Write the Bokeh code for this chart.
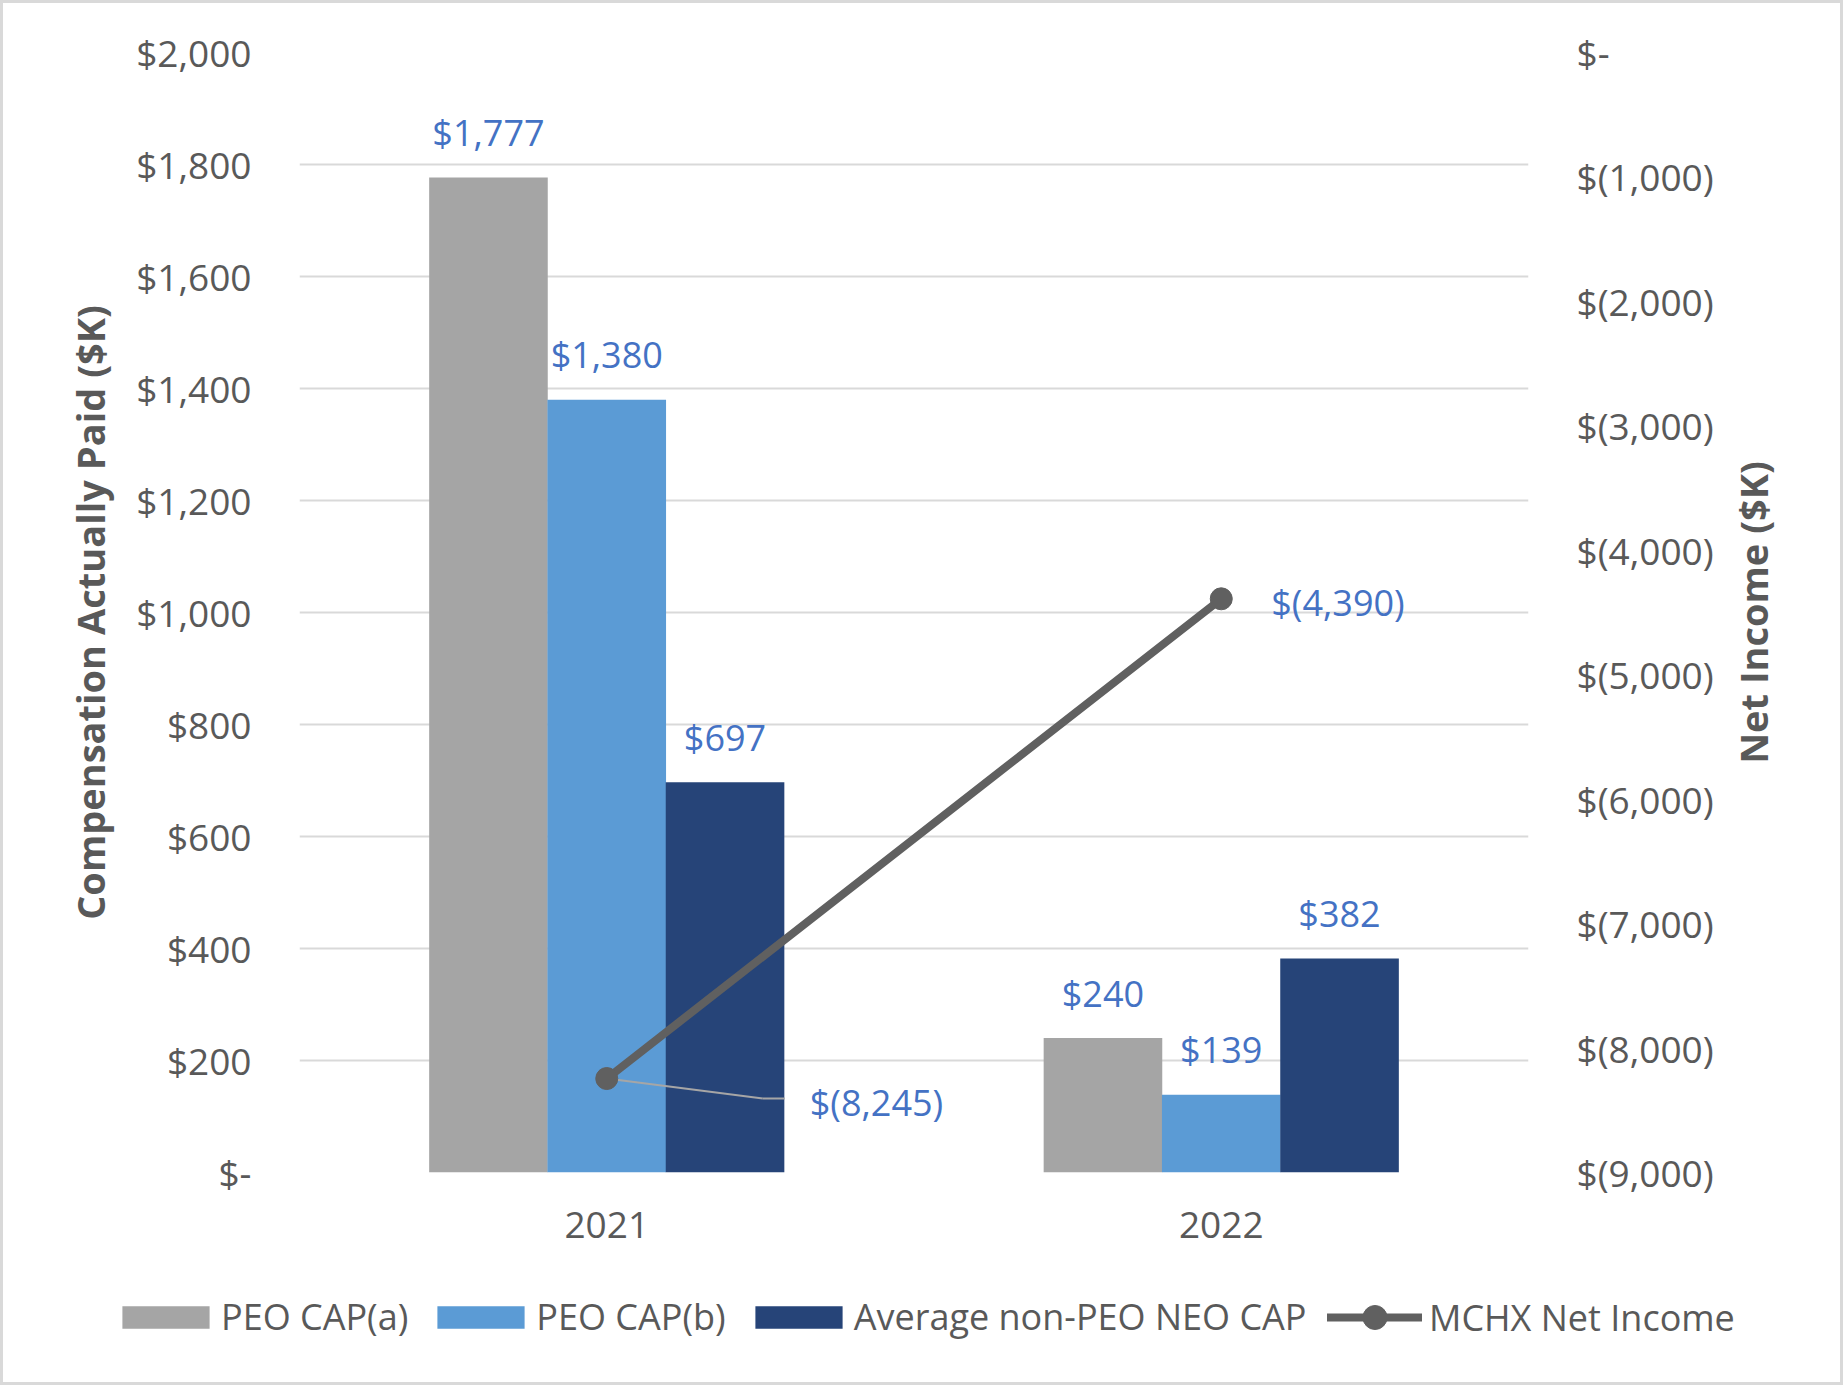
from bokeh.plotting import figure
from bokeh.layouts import column, row
from bokeh.models import (ColumnDataSource, FactorRange, Range1d, LinearAxis,
                          FixedTicker, Legend, LegendItem, LabelSet)
from bokeh.transform import dodge
from bokeh.embed import file_html
from bokeh.resources import INLINE
from bokeh.core.properties import value

# ---------------- data ----------------
years = ["2021", "2022"]
peo_cap_a = [1777, 240]
peo_cap_b = [1380, 139]
avg_neo_cap = [697, 382]
net_income = [-8245, -4390]

left_ticks = [0, 200, 400, 600, 800, 1000, 1200, 1400, 1600, 1800, 2000]
left_tick_labels = ["$-", "$200", "$400", "$600", "$800", "$1,000", "$1,200",
                    "$1,400", "$1,600", "$1,800", "$2,000"]
right_ticks = [-9000, -8000, -7000, -6000, -5000, -4000, -3000, -2000, -1000, 0]
right_tick_labels = ["$(9,000)", "$(8,000)", "$(7,000)", "$(6,000)", "$(5,000)",
                     "$(4,000)", "$(3,000)", "$(2,000)", "$(1,000)", "$-"]

series_names = ["PEO CAP(a)", "PEO CAP(b)", "Average non-PEO NEO CAP", "MCHX Net Income"]
left_title = "Compensation Actually Paid ($K)"
right_title = "Net Income ($K)"

# ---------------- style ----------------
FONT = "Open Sans"
FS = "36px"
C_A = "#A5A5A5"
C_B = "#5B9BD5"
C_N = "#264478"
C_LINE = "#606060"
C_LBL = "#4472C4"
C_TXT = "#595959"
C_GRID = "#D9D9D9"

BORDER = 3
W = 1843 - 2 * BORDER          # 1837
W_MAIN = 1720
W_TITLE = W - W_MAIN
H_MAIN = 1265
H_LEG = 1385 - 2 * BORDER - H_MAIN
ML, MR, MT, MB = 296, W_MAIN - 1525, 49, 96
frame_w = W_MAIN - ML - MR
frame_h = H_MAIN - MT - MB
BW = 0.193


def money(v):
    return f"${v:,}"


def money_neg(v):
    return f"$({-v:,})" if v < 0 else "$-"


def no_align(fig):
    if "frame_align" in fig.properties():
        fig.frame_align = False


src = ColumnDataSource(dict(
    year=years, a=peo_cap_a, b=peo_cap_b, n=avg_neo_cap, ni=net_income,
    a_lbl=[money(v) for v in peo_cap_a],
    b_lbl=[money(v) for v in peo_cap_b],
    n_lbl=[money(v) for v in avg_neo_cap],
))

p = figure(x_range=FactorRange(*years, range_padding=0), y_range=Range1d(0, 2000),
           width=W_MAIN, height=H_MAIN, output_backend="svg", toolbar_location=None,
           min_border_left=ML, min_border_right=MR, min_border_top=MT,
           min_border_bottom=MB)
p.extra_y_ranges = {"ni": Range1d(-9000, 0)}
p.outline_line_color = None
p.background_fill_color = "white"
p.border_fill_color = "white"
no_align(p)

# bars
p.vbar(x=dodge("year", -0.1925, range=p.x_range), top="a", width=BW, source=src,
       fill_color=C_A, line_color=None)
p.vbar(x=dodge("year", 0.0, range=p.x_range), top="b", width=BW, source=src,
       fill_color=C_B, line_color=None)
p.vbar(x=dodge("year", 0.1925, range=p.x_range), top="n", width=BW, source=src,
       fill_color=C_N, line_color=None)

# leader line for the first net income label
px_per_cat = frame_w / len(years)
px_per_ni = frame_h / 9000.0
lead_src = ColumnDataSource(dict(year=[years[0]], ni=[net_income[0]],
                                 ni2=[net_income[0] - 20 / px_per_ni]))
p.segment(x0=dodge("year", 0.0, range=p.x_range), y0="ni",
          x1=dodge("year", 156 / px_per_cat, range=p.x_range), y1="ni2",
          source=lead_src, y_range_name="ni", line_color="#A6A6A6", line_width=2)
p.segment(x0=dodge("year", 156 / px_per_cat, range=p.x_range), y0="ni2",
          x1=dodge("year", 178 / px_per_cat, range=p.x_range), y1="ni2",
          source=lead_src, y_range_name="ni", line_color="#A6A6A6", line_width=2)

# net income line
p.line(x="year", y="ni", source=src, y_range_name="ni", line_color=C_LINE,
       line_width=8, line_cap="round")
p.scatter(x="year", y="ni", source=src, y_range_name="ni", size=22,
          fill_color=C_LINE, line_color=C_LINE)

# data labels
for fld, lbl, off in (("a", "a_lbl", -0.1925), ("b", "b_lbl", 0.0), ("n", "n_lbl", 0.1925)):
    p.add_layout(LabelSet(x=dodge("year", off, range=p.x_range), y=fld, text=lbl, source=src,
                          text_align="center", text_baseline="middle", y_offset=45,
                          text_font=value(FONT), text_font_size=FS, text_color=C_LBL))

ni_src = ColumnDataSource(dict(year=years, ni=net_income,
                               ni_lbl=[money_neg(v) for v in net_income],
                               dx=[203, 50], dy=[-24, -4]))
p.add_layout(LabelSet(x="year", y="ni", text="ni_lbl", source=ni_src, y_range_name="ni",
                      x_offset="dx", y_offset="dy",
                      text_align="left", text_baseline="middle",
                      text_font=value(FONT), text_font_size=FS, text_color=C_LBL))

# axes
p.yaxis.ticker = FixedTicker(ticks=left_ticks)
p.yaxis.major_label_overrides = dict(zip(left_ticks, left_tick_labels))
p.yaxis.axis_label = left_title

right = LinearAxis(y_range_name="ni", ticker=FixedTicker(ticks=right_ticks),
                   major_label_overrides=dict(zip(right_ticks, right_tick_labels)))
p.add_layout(right, "right")


def style_axis(ax):
    ax.axis_line_color = None
    ax.major_tick_line_color = None
    ax.minor_tick_line_color = None
    ax.major_tick_out = 0
    ax.major_tick_in = 0
    ax.minor_tick_out = 0
    ax.minor_tick_in = 0
    ax.major_label_text_font = FONT
    ax.major_label_text_font_size = "37px"
    ax.major_label_text_color = C_TXT
    ax.axis_label_text_font = FONT
    ax.axis_label_text_font_size = "38px"
    ax.axis_label_text_font_style = "bold"
    ax.axis_label_text_color = C_TXT


for ax in (p.yaxis[0], right, p.xaxis[0]):
    style_axis(ax)

p.yaxis[0].major_label_standoff = 48
p.yaxis[0].axis_label_standoff = 17
right.major_label_standoff = 48
p.xaxis[0].major_label_standoff = 39

p.ygrid.ticker = FixedTicker(ticks=left_ticks)
p.ygrid.grid_line_color = C_GRID
p.ygrid.grid_line_width = 2
p.xgrid.visible = False

# ---------------- right-hand axis title strip ----------------
TL = 57
tfig = figure(width=W_TITLE, height=H_MAIN, x_range=Range1d(0, 1), y_range=Range1d(-9000, 0),
              x_axis_type=None, output_backend="svg", toolbar_location=None,
              min_border_left=TL, min_border_right=0, min_border_top=MT,
              min_border_bottom=MB)
tfig.outline_line_color = None
tfig.grid.visible = False
tfig.yaxis.ticker = FixedTicker(ticks=[])
tfig.yaxis.axis_label = right_title
style_axis(tfig.yaxis[0])
tfig.yaxis[0].major_label_standoff = 0
tfig.yaxis[0].axis_label_standoff = 5
no_align(tfig)

# ---------------- legend strip ----------------
leg = figure(width=W, height=H_LEG, x_range=FactorRange(*years), y_range=Range1d(10000, 10001),
             x_axis_type=None, y_axis_type=None, output_backend="svg",
             toolbar_location=None, min_border=0, min_border_left=0, min_border_right=0,
             min_border_top=0, min_border_bottom=0)
leg.outline_line_color = None
leg.grid.visible = False
no_align(leg)
# legend swatches reuse the series (the strip's range keeps the marks themselves out of view)
la = leg.vbar(x="year", top="a", width=0.1, source=src, fill_color=C_A, line_color=None)
lb = leg.vbar(x="year", top="b", width=0.1, source=src, fill_color=C_B, line_color=None)
ln = leg.vbar(x="year", top="n", width=0.1, source=src, fill_color=C_N, line_color=None)
ll = leg.line(x="year", y="ni", source=src, line_color=C_LINE, line_width=8, line_cap="round")
lsc = leg.scatter(x="year", y="ni", source=src, size=22, fill_color=C_LINE, line_color=C_LINE)

common = dict(orientation="horizontal", label_text_font=FONT, label_text_font_size=FS,
              label_text_color=C_TXT, border_line_color=None, background_fill_alpha=0,
              padding=0, margin=0)
legend1 = Legend(items=[LegendItem(label=series_names[0], renderers=[la]),
                        LegendItem(label=series_names[1], renderers=[lb]),
                        LegendItem(label=series_names[2], renderers=[ln])],
                 location=(108, 41), glyph_width=109, glyph_height=28,
                 label_standoff=1, spacing=18, **common)
legend2 = Legend(items=[LegendItem(label=series_names[3], renderers=[ll, lsc])],
                 location=(1324, 35), glyph_width=95, glyph_height=60,
                 label_standoff=7, spacing=0, **common)
leg.add_layout(legend1, "center")
leg.add_layout(legend2, "center")

layout = column(row(p, tfig, spacing=0), leg, spacing=0,
                styles={"border": f"{BORDER}px solid {C_GRID}"})

open("out.html", "w").write(file_html(layout, INLINE))
